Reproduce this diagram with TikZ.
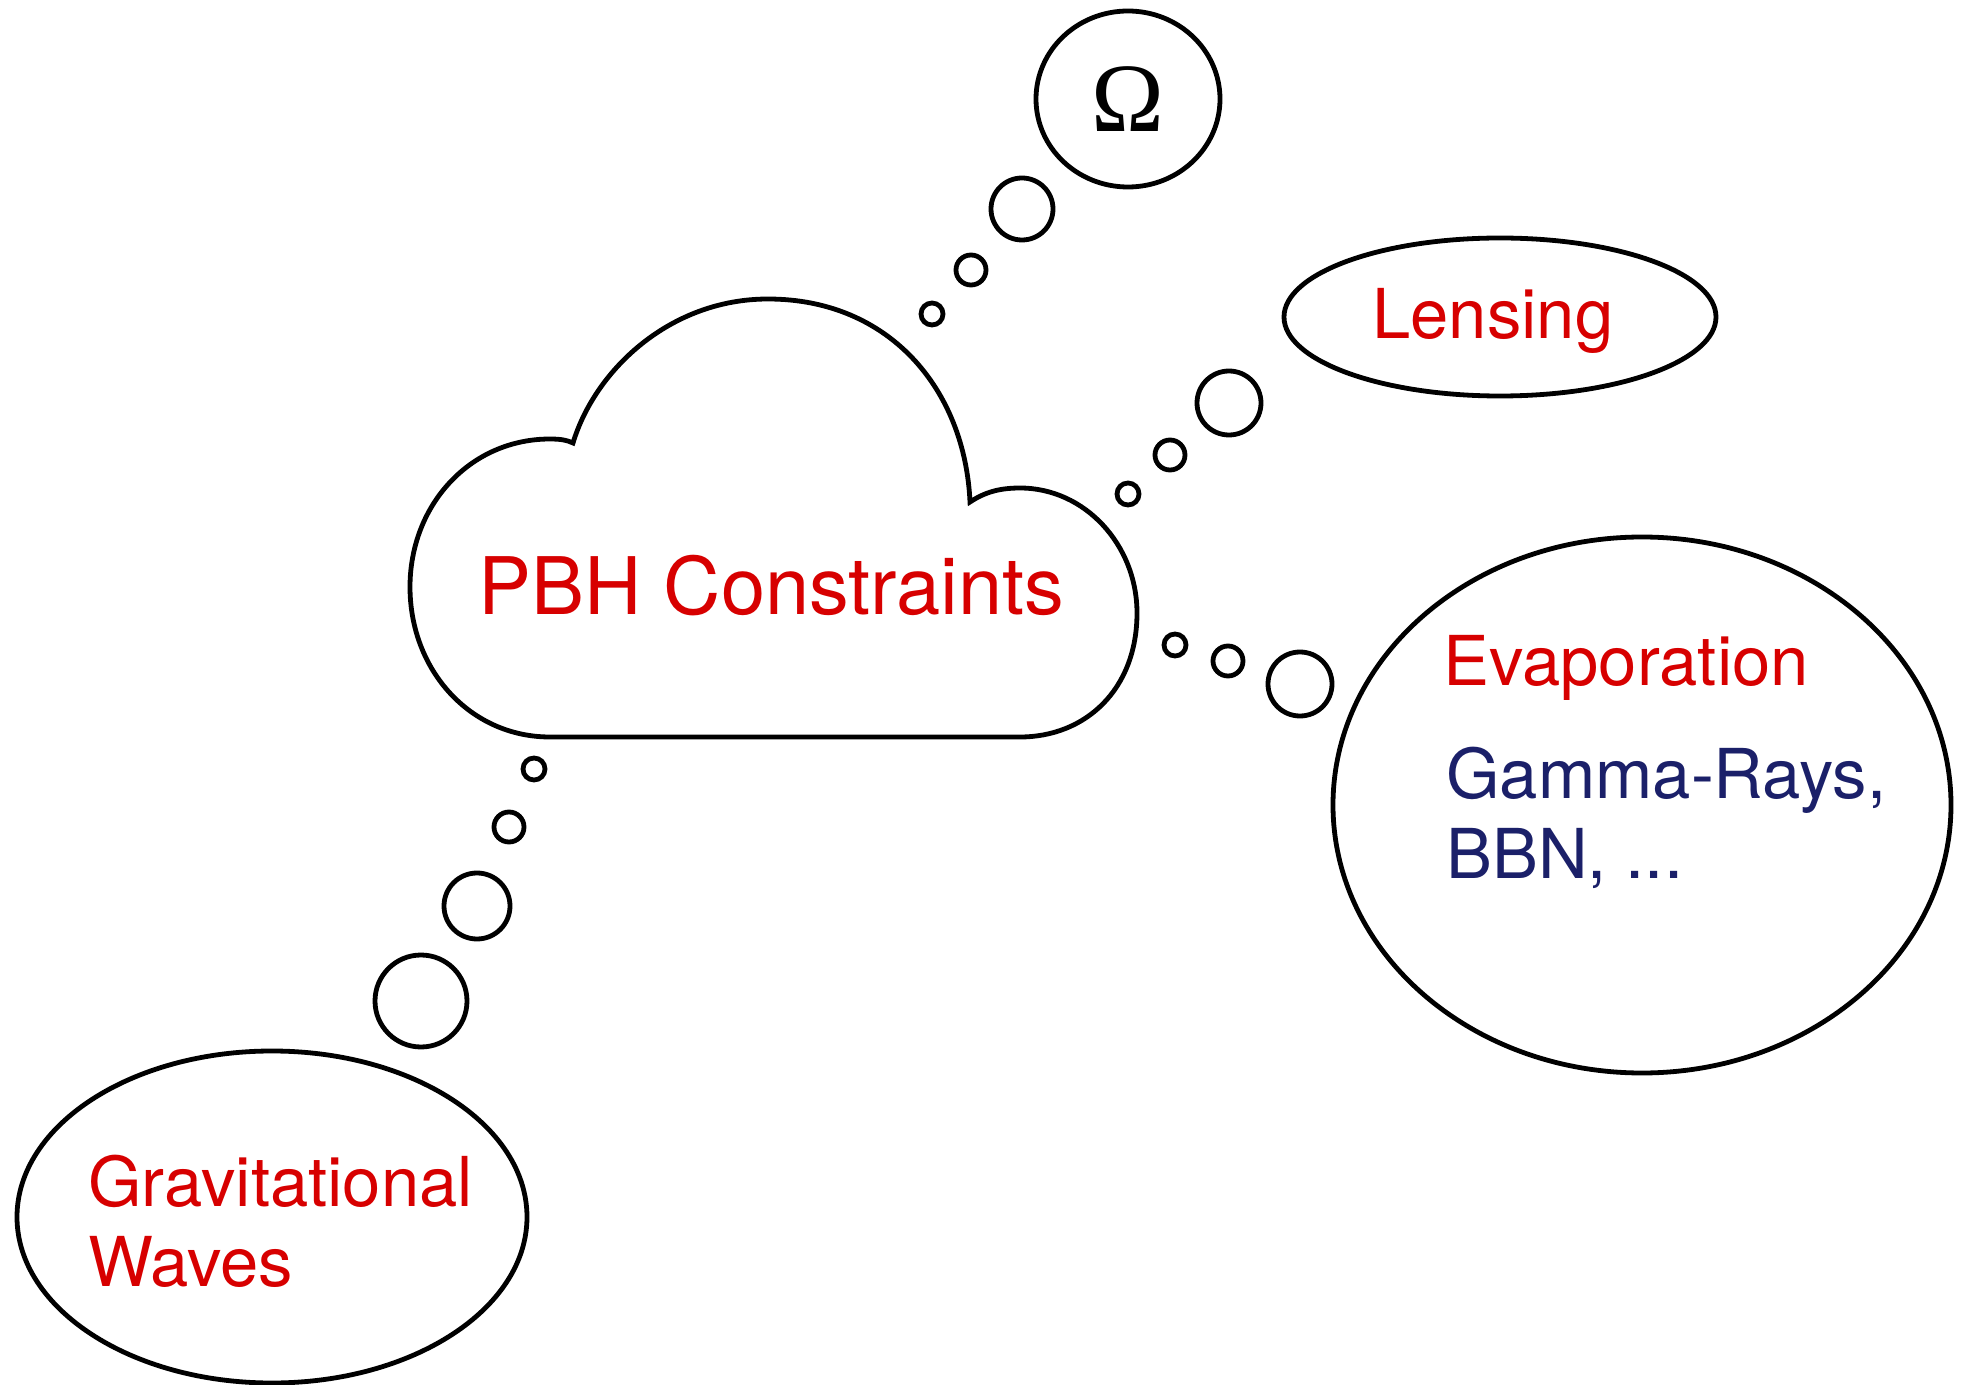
\documentclass[tikz,border=0pt]{standalone}
\usepackage{fontspec}
\setmainfont{TeX Gyre Heros}
\newfontfamily\omegafont{Liberation Serif}
\usetikzlibrary{shapes.geometric, positioning}
\definecolor{pbhred}{RGB}{215,0,0}
\definecolor{pbhblue}{RGB}{27,32,105}

\begin{document}
\begin{tikzpicture}[
    x=0.5pt, y=-0.5pt,
    thought/.style={ellipse, draw, line width=2.4pt, inner sep=0pt},
    bubble/.style={circle, draw, line width=2.4pt, inner sep=0pt},
    label/.style={font=\fontsize{34.4}{40}\selectfont, align=left, inner sep=0pt, anchor=base west}
]
    \useasboundingbox (0,0) rectangle (1967,1385);

    % Central cloud
    \draw[line width=2.4pt] (550,737)
        .. controls (470,737) and (410,670) .. (410,587)
        .. controls (410,505) and (470,439) .. (550,439)
        .. controls (560,439) and (567,440) .. (573,443)
        .. controls (595,370) and (670,299) .. (768,299)
        .. controls (890,299) and (965,390) .. (970,502)
        .. controls (985,492) and (1000,488) .. (1020,488)
        .. controls (1085,488) and (1137,545) .. (1137,613)
        .. controls (1137,690) and (1085,737) .. (1020,737)
        -- cycle;
    \node[anchor=base west, inner sep=0pt, font=\fontsize{39.7}{46}\selectfont, pbhred] (pbh) at (478,615) {PBH Constraints};

    % Omega
    \node[thought, minimum width=92pt, minimum height=88pt, font=\omegafont\fontsize{49}{49}\selectfont] (omega) at (1128,99) {Ω};
    \node[bubble, minimum size=11pt] (omegaA) at (932,314) {};
    \node[bubble, minimum size=15pt] (omegaB) at (971,270) {};
    \node[bubble, minimum size=31pt] (omegaC) at (1022,209) {};

    % Lensing
    \node[thought, minimum width=216pt, minimum height=79pt] (lensing) at (1500,317) {};
    \node[label, pbhred] (lenstext) at (1372,339) {Lensing};
    \node[bubble, minimum size=11pt] (lensA) at (1128,494) {};
    \node[bubble, minimum size=15pt] (lensB) at (1170,455) {};
    \node[bubble, minimum size=32pt] (lensC) at (1229,403) {};

    % Evaporation
    \node[thought, minimum width=309pt, minimum height=268pt] (evap) at (1642,805) {};
    \node[label, pbhred] (evaptext) at (1443,685) {Evaporation};
    \node[label, pbhblue] (evapsub) at (1446,878) {Gamma-Rays,\\BBN, ...};
    \node[bubble, minimum size=11pt] (evapA) at (1175,645) {};
    \node[bubble, minimum size=15pt] (evapB) at (1228,661) {};
    \node[bubble, minimum size=32pt] (evapC) at (1300,684) {};

    % Gravitational waves
    \node[thought, minimum width=255pt, minimum height=166pt] (gw) at (272,1217) {};
    \node[label, pbhred] (gwtext) at (88,1286) {Gravitational\\Waves};
    \node[bubble, minimum size=11pt] (gwA) at (534,769) {};
    \node[bubble, minimum size=15pt] (gwB) at (509,827) {};
    \node[bubble, minimum size=33pt] (gwC) at (477,906) {};
    \node[bubble, minimum size=46pt] (gwD) at (421,1001) {};
\end{tikzpicture}
\end{document}
